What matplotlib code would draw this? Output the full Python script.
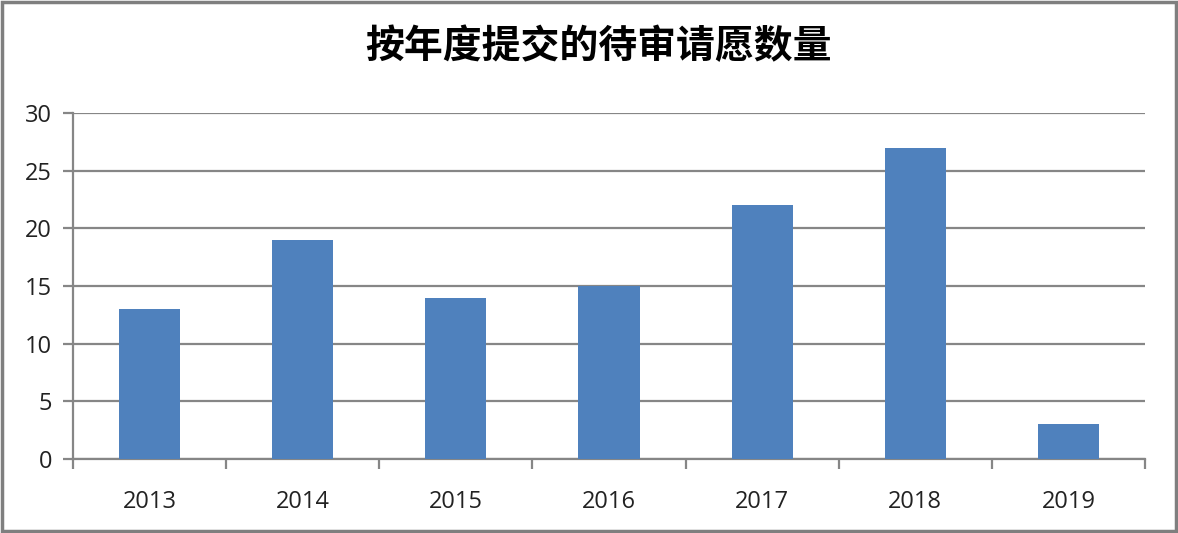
import matplotlib
matplotlib.use("Agg")
import matplotlib.pyplot as plt
from matplotlib.patches import Rectangle

plt.rcParams['font.family'] = ['Noto Sans CJK SC', 'DejaVu Sans']

years = ['2013', '2014', '2015', '2016', '2017', '2018', '2019']
counts = [13, 19, 14, 15, 22, 27, 3]
yticks = [0, 5, 10, 15, 20, 25, 30]
title = '按年度提交的待审请愿数量'

fig = plt.figure(figsize=(11.78, 5.33), dpi=100)
ax = fig.add_axes([73 / 1178, 1 - 459 / 533, (1145 - 73) / 1178, (459 - 113) / 533])

grid_color = '#868686'
x = list(range(len(years)))
ax.bar(x, counts, width=0.4, color='#4F81BD', zorder=3)

ax.set_xlim(-0.5, len(years) - 0.5)
ax.set_ylim(0, 30)
ax.set_yticks(yticks)
ax.set_yticklabels([str(t) for t in yticks], fontsize=17, color='#222222', family='Open Sans')
ax.yaxis.grid(True, color=grid_color, linewidth=1.6, zorder=0)
ax.tick_params(axis='y', length=7, width=1.6, color=grid_color, pad=8)

# category labels at centers, ticks on boundaries
ax.set_xticks(x)
ax.set_xticklabels(years, fontsize=17, color='#222222', family='Open Sans')
ax.tick_params(axis='x', which='major', length=0, pad=22)
ax.set_xticks([i - 0.5 for i in range(len(years) + 1)], minor=True)
ax.tick_params(axis='x', which='minor', length=7, width=1.6, color=grid_color)

for s in ['top', 'right']:
    ax.spines[s].set_visible(False)
for s in ['left', 'bottom']:
    ax.spines[s].set_color(grid_color)
    ax.spines[s].set_linewidth(1.6)

fig.text(598 / 1178, 1 - 47 / 533, title, ha='center', va='center', fontsize=28,
         fontweight='bold', color='black')

fig.patches.append(Rectangle((0.002, 0.004), 0.996, 0.992, transform=fig.transFigure,
                             fill=False, edgecolor='#7f7f7f', linewidth=2.5))

fig.savefig('out.png', dpi=100)
